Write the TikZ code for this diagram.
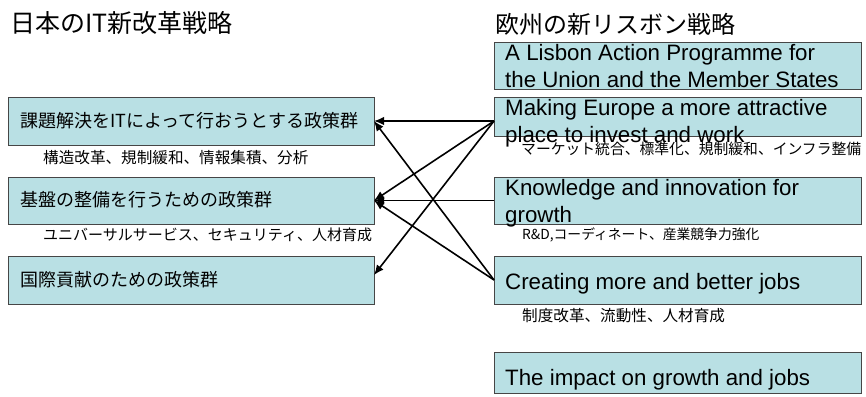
\documentclass[tikz,border=0pt]{standalone}
\usepackage{fontspec}
\setmainfont{Liberation Sans}
\newfontfamily\jpfont{Noto Sans CJK JP}
\usetikzlibrary{arrows.meta}
\definecolor{boxfill}{RGB}{185,224,228}
\definecolor{boxline}{RGB}{70,70,70}
\newcommand{\mytwolines}[2]{\vtop{\hbox{#1}\hbox{#2}}}
\begin{document}
\begin{tikzpicture}[x=1pt,y=1pt,
  box/.style={draw=boxline, fill=boxfill, line width=0.9pt, inner sep=0pt, outer sep=0pt, anchor=north west},
  lbox/.style={box, minimum width=366pt},
  rbox/.style={box, minimum width=367pt},
  titletext/.style={inner sep=0pt, anchor=west},
  jtext/.style={font=\jpfont\fontsize{18}{22}\selectfont, inner sep=0pt, anchor=west},
  note/.style={inner sep=0pt, anchor=west},
  etext/.style={font=\fontsize{22.3}{27}\selectfont, inner sep=0pt, anchor=base west},
  link/.style={line width=1.6pt, -{Latex[length=10pt,width=8.5pt]}}
]
\useasboundingbox (0,0) rectangle (866,-396);

% titles
\node[titletext, font=\jpfont\fontsize{25}{28}\selectfont] (t1) at (10,-23) {日本のIT新改革戦略};
\node[titletext, font=\jpfont\fontsize{24}{28}\selectfont] (t2) at (495,-24) {欧州の新リスボン戦略};

% left boxes
\node[lbox, minimum height=48pt] (L1) at (8,-97) {};
\node[lbox, minimum height=47pt] (L2) at (8,-177) {};
\node[lbox, minimum height=48pt] (L3) at (8,-256) {};

% right boxes
\node[rbox, minimum height=47pt] (A) at (494,-42) {};
\node[rbox, minimum height=39pt] (B) at (494,-97) {};
\node[rbox, minimum height=47pt] (C) at (494,-177) {};
\node[rbox, minimum height=48pt] (D) at (494,-256) {};
\node[rbox, minimum height=41pt] (E) at (494,-352) {};

% connectors
\draw[link] ([yshift=-4.5pt]B.west) -- (L1.east);
\draw[link] ([yshift=-4.5pt]B.west) -- (L2.east);
\draw[link] ([yshift=-4.5pt]B.west) -- ([yshift=5pt]L3.east);
\draw[link] (C.west) -- (L2.east);
\draw[link] (D.west) -- (L1.east);
\draw[link] (D.west) -- (L2.east);

% left texts
\node[jtext] (l1t) at (20,-121) {課題解決をITによって行おうとする政策群};
\node[jtext] (l2t) at (20,-200) {基盤の整備を行うための政策群};
\node[jtext] (l3t) at (20,-280) {国際貢献のための政策群};
\node[note, font=\jpfont\fontsize{15.6}{18}\selectfont] (n1) at (43,-158) {構造改革、規制緩和、情報集積、分析};
\node[note, font=\jpfont\fontsize{15}{18}\selectfont] (n2) at (43,-235) {ユニバーサルサービス、セキュリティ、人材育成};

% right texts
\node[etext] (at) at (505,-60) {\mytwolines{A Lisbon Action Programme for}{the Union and the Member States}};
\node[etext] (bt) at (505,-115) {\mytwolines{Making Europe a more attractive}{place to invest and work}};
\node[etext] (ct) at (505,-195) {\mytwolines{Knowledge and innovation for}{growth}};
\node[etext] (dt) at (505,-289) {Creating more and better jobs};
\node[etext] (et) at (505,-385) {The impact on growth and jobs};
\node[note, font=\jpfont\fontsize{14.8}{18}\selectfont] (n3) at (521,-149) {マーケット統合、標準化、規制緩和、インフラ整備};
\node[note, font=\jpfont\fontsize{13.8}{18}\selectfont] (n4) at (522,-235) {R\&D,コーディネート、産業競争力強化};
\node[note, font=\jpfont\fontsize{15.6}{18}\selectfont] (n5) at (522,-316) {制度改革、流動性、人材育成};
\end{tikzpicture}
\end{document}
